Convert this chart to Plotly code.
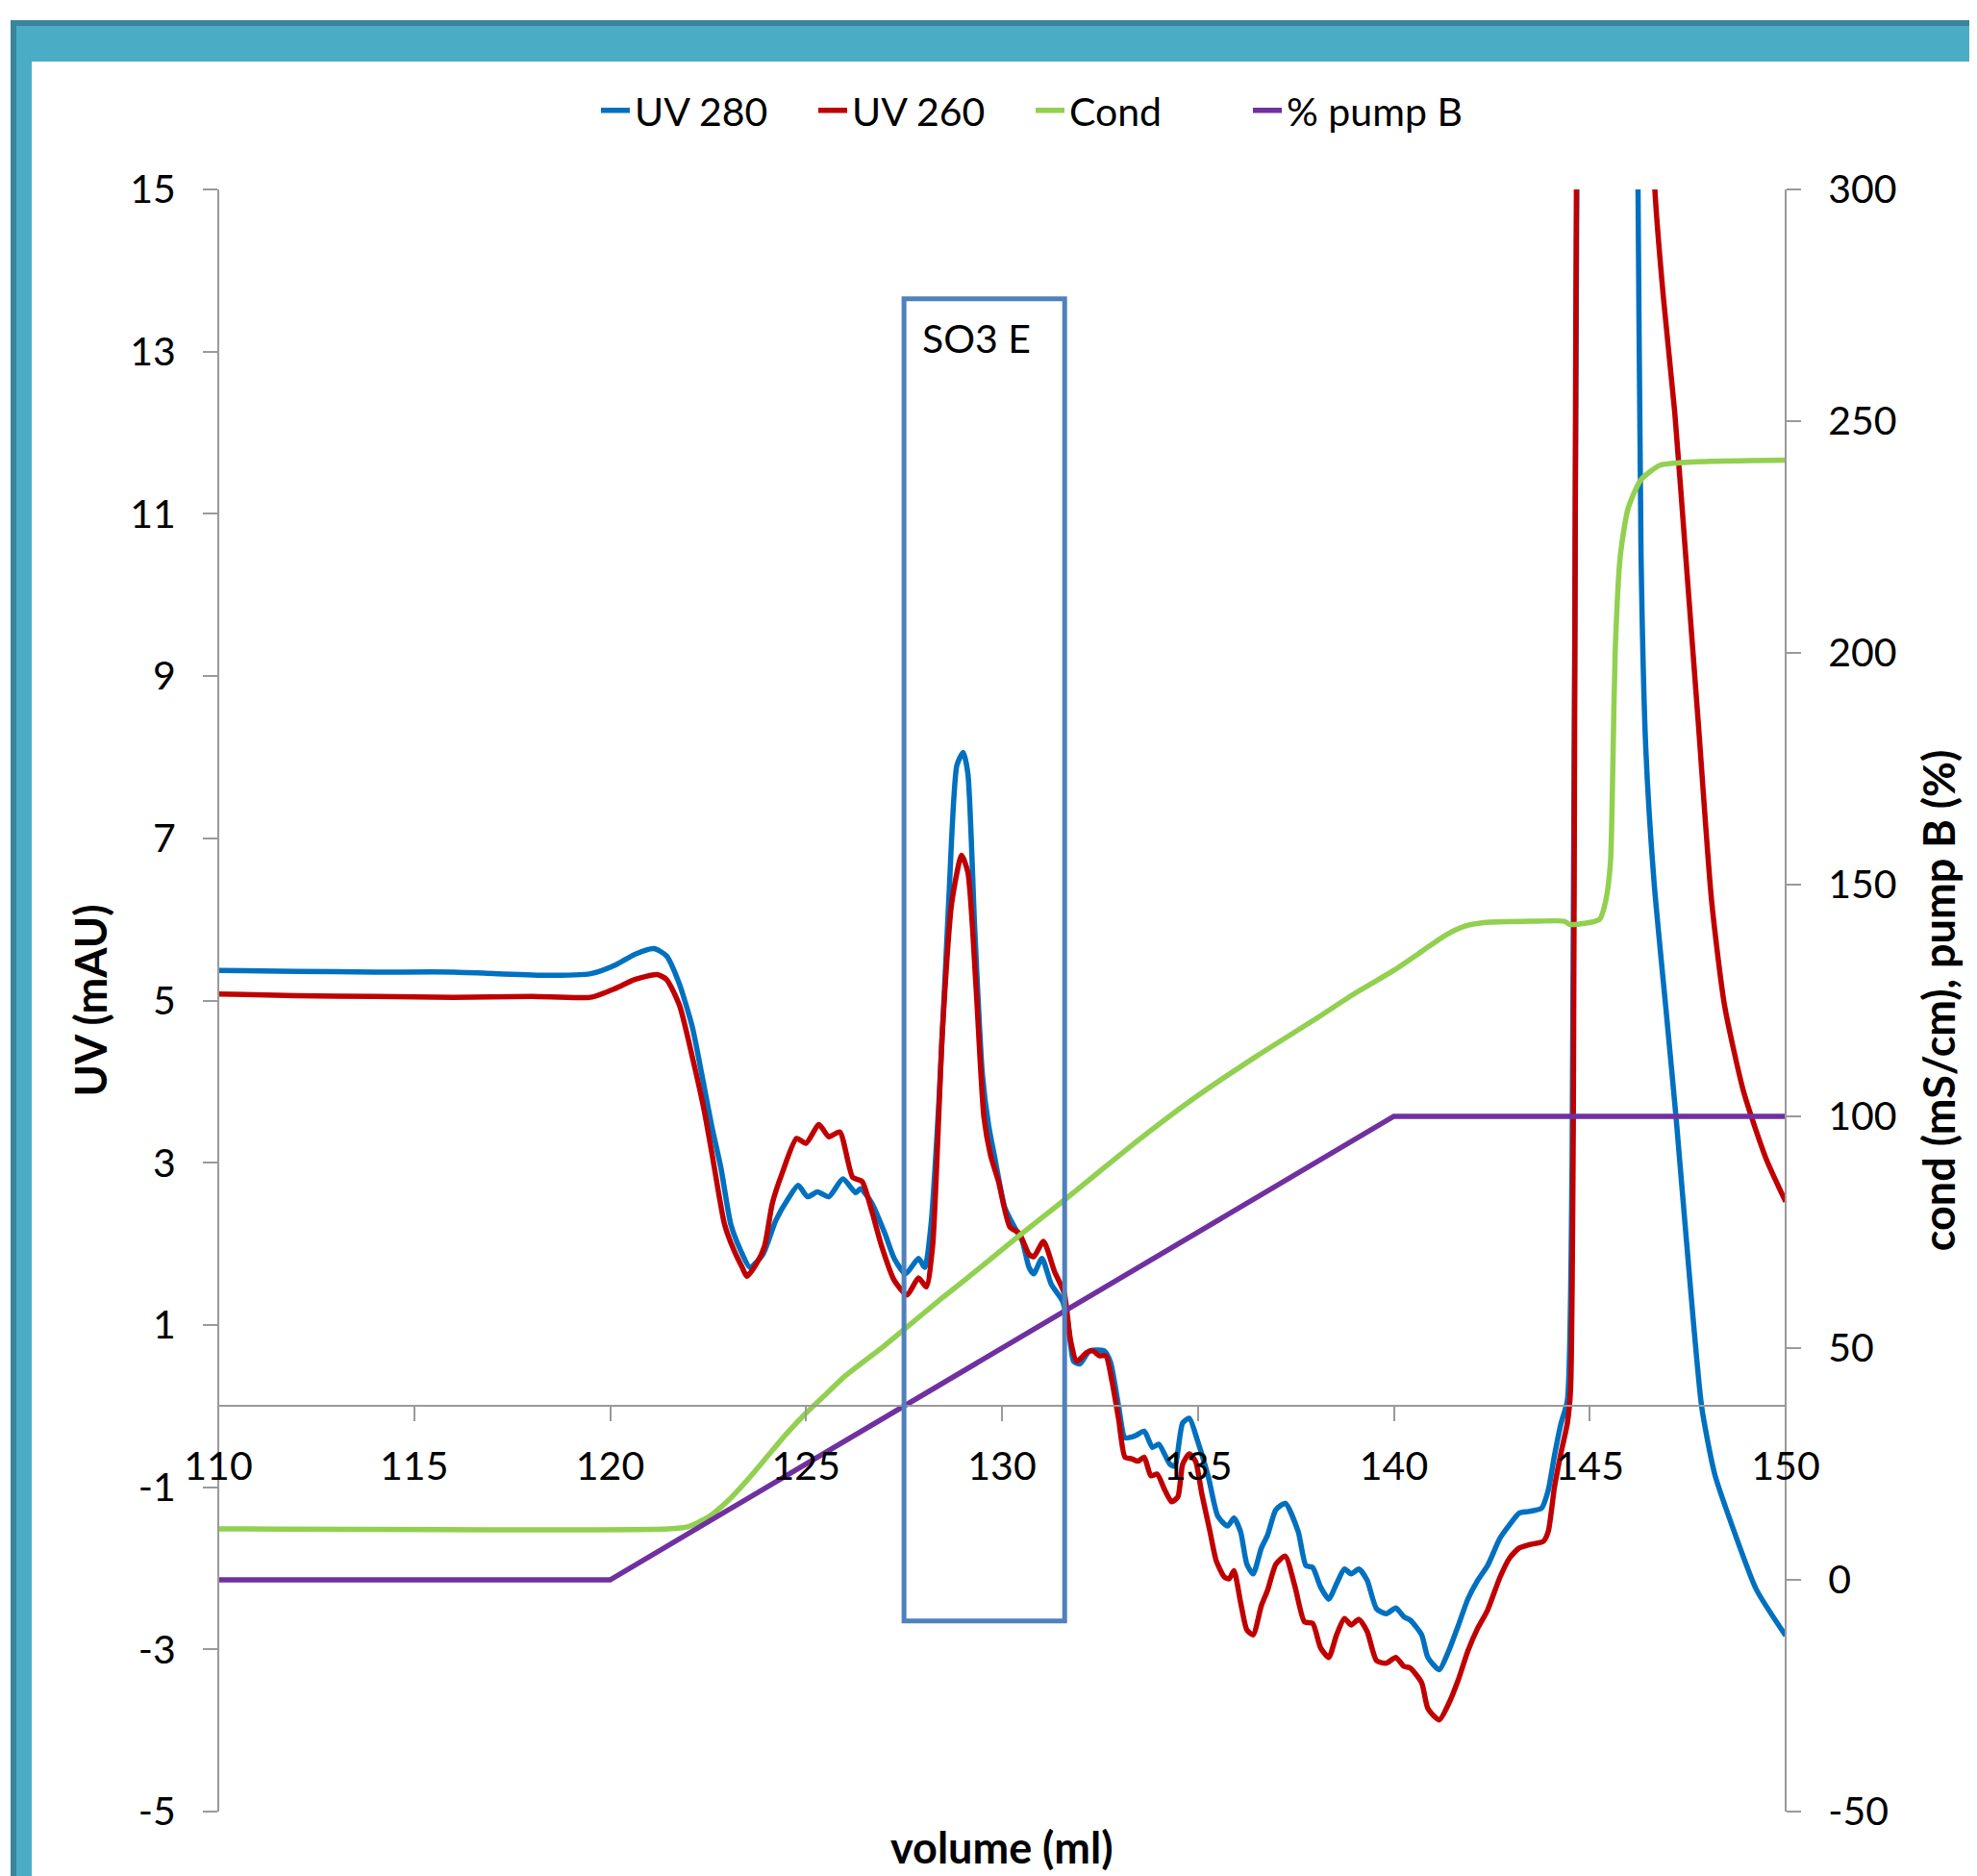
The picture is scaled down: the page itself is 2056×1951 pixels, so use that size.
import plotly.graph_objects as go

# ---------------- data ----------------
vol_uv280 = [110, 112, 114, 116, 118.3, 119.5, 120.14, 120.63, 121.12, 121.44, 121.77, 122.10,
             122.34, 122.59, 122.83, 123.08, 123.33, 123.57, 123.90, 124.23, 124.55, 124.80,
             125.04, 125.29, 125.58, 125.94, 126.27, 126.39, 126.68, 127.01, 127.25, 127.54,
             127.87, 128.03, 128.19, 128.40, 128.64, 128.85, 129.01, 129.13, 129.30, 129.50,
             129.66, 129.83, 130.07, 130.28, 130.52, 130.69, 130.81, 131.02, 131.26, 131.55,
             131.71, 131.83, 131.99, 132.24, 132.61, 132.77, 132.98, 133.14, 133.39, 133.63,
             133.84, 134.00, 134.29, 134.41, 134.61, 134.78, 134.98, 135.27, 135.51, 135.76,
             135.92, 136.09, 136.25, 136.41, 136.62, 136.78, 136.99, 137.23, 137.56, 137.76,
             137.93, 138.13, 138.34, 138.54, 138.74, 138.91, 139.11, 139.32, 139.56, 139.81,
             140.05, 140.26, 140.42, 140.71, 140.87, 141.16, 141.40, 141.65, 141.89, 142.14,
             142.39, 142.71, 142.96, 143.20, 143.45, 143.77, 143.94, 144.10, 144.27, 144.43,
             144.55, 144.68, 145.40, 146.23, 146.31, 146.43, 146.64, 146.96, 147.21, 147.54,
             147.86, 148.19, 148.60, 149.25, 150.0]
uv280 = [5.37, 5.36, 5.35, 5.35, 5.31, 5.33, 5.44, 5.57, 5.64, 5.55, 5.20, 4.67,
         4.09, 3.46, 2.93, 2.24, 1.92, 1.71, 1.87, 2.29, 2.56, 2.72,
         2.58, 2.64, 2.58, 2.80, 2.63, 2.68, 2.50, 2.13, 1.82, 1.63,
         1.82, 1.71, 2.24, 3.83, 6.21, 7.90, 8.06, 7.80, 5.94, 4.09,
         3.46, 3.03, 2.45, 2.24, 2.03, 1.71, 1.63, 1.82, 1.50, 1.29,
         0.92, 0.55, 0.52, 0.68, 0.68, 0.54, -0.01, -0.39, -0.37, -0.31,
         -0.51, -0.47, -0.72, -0.74, -0.21, -0.15, -0.41, -0.88, -1.36, -1.48,
         -1.38, -1.55, -1.95, -2.07, -1.75, -1.59, -1.28, -1.20, -1.55, -1.97,
         -1.99, -2.23, -2.38, -2.19, -2.01, -2.07, -2.01, -2.15, -2.50, -2.56,
         -2.49, -2.60, -2.64, -2.82, -3.10, -3.25, -3.02, -2.70, -2.38, -2.15,
         -1.97, -1.63, -1.46, -1.32, -1.30, -1.26, -1.04, -0.61, -0.21, 0.07,
         3.0, 16.0, 60.0, 15.2, 10.48, 8.12, 6.47, 4.82, 3.52, 1.63,
         -0.02, -0.84, -1.43, -2.26, -2.83]

vol_uv260 = [110, 112, 114, 116, 118, 119.5, 120.14, 120.63, 121.20, 121.44, 121.77, 122.10,
             122.39, 122.59, 122.92, 123.16, 123.37, 123.49, 123.74, 123.94, 124.14, 124.39,
             124.76, 125.00, 125.33, 125.58, 125.86, 126.19, 126.43, 126.68, 126.93, 127.25,
             127.58, 127.87, 128.07, 128.23, 128.48, 128.72, 128.97, 129.13, 129.34, 129.54,
             129.71, 129.91, 130.20, 130.44, 130.69, 130.81, 131.06, 131.34, 131.59, 131.75,
             131.91, 132.16, 132.32, 132.49, 132.65, 132.81, 132.98, 133.14, 133.31, 133.47,
             133.63, 133.80, 133.96, 134.16, 134.33, 134.49, 134.61, 134.78, 134.94, 135.10,
             135.31, 135.47, 135.68, 135.80, 135.92, 136.09, 136.25, 136.41, 136.62, 136.78,
             136.99, 137.23, 137.48, 137.72, 137.93, 138.13, 138.34, 138.54, 138.74, 138.91,
             139.11, 139.32, 139.56, 139.81, 140.05, 140.26, 140.42, 140.71, 140.87, 141.16,
             141.40, 141.65, 141.89, 142.14, 142.39, 142.71, 142.96, 143.20, 143.45, 143.81,
             143.94, 144.10, 144.27, 144.43, 144.51, 144.58, 144.62, 144.67, 145.60, 146.64,
             146.88, 147.17, 147.45, 147.78, 148.11, 148.44, 148.93, 149.50, 150.0]
uv260 = [5.08, 5.06, 5.05, 5.04, 5.05, 5.04, 5.15, 5.26, 5.32, 5.26, 4.94, 4.30,
         3.67, 3.14, 2.24, 1.92, 1.71, 1.60, 1.76, 1.97, 2.50, 2.87,
         3.30, 3.24, 3.47, 3.32, 3.38, 2.82, 2.77, 2.40, 1.97, 1.55,
         1.37, 1.58, 1.47, 1.97, 4.62, 6.21, 6.79, 6.58, 5.15, 3.56,
         3.09, 2.77, 2.21, 2.13, 1.87, 1.84, 2.03, 1.66, 1.39, 0.81,
         0.55, 0.66, 0.68, 0.62, 0.62, 0.30, -0.17, -0.63, -0.65, -0.68,
         -0.63, -0.86, -0.84, -1.04, -1.18, -1.12, -0.72, -0.59, -0.68, -1.08,
         -1.55, -1.91, -2.11, -2.13, -2.03, -2.42, -2.76, -2.82, -2.46, -2.27,
         -1.95, -1.85, -2.23, -2.66, -2.68, -2.98, -3.10, -2.82, -2.62, -2.70,
         -2.63, -2.78, -3.14, -3.17, -3.10, -3.21, -3.23, -3.41, -3.73, -3.87,
         -3.67, -3.37, -3.02, -2.74, -2.52, -2.11, -1.87, -1.75, -1.71, -1.67,
         -1.55, -1.00, -0.57, -0.21, 0.19, 3.4, 9.3, 16.0, 60.0, 15.2,
         13.67, 12.25, 10.48, 8.36, 6.23, 4.94, 3.87, 3.05, 2.52]

vol_cond = [110, 121.5, 122.0, 122.5, 123.0, 123.5, 124.0, 124.5, 125.0, 125.5, 126.0, 127.0,
            127.5, 128.5, 129.1, 130.4, 131.6, 132.4, 133.5, 135.0, 136.5, 138.0, 139.0, 140.0,
            140.7, 141.3, 141.8, 142.3, 143.5, 144.35, 144.5, 145.25, 145.41, 145.53, 145.59,
            145.65, 145.78, 145.98, 146.31, 146.8, 147.62, 150.0]
cond = [11, 11, 11.5, 13.5, 17, 21.5, 26.5, 31.5, 36, 40, 44, 50.5,
        54, 61, 65, 74, 82, 87.5, 95, 104.5, 113, 121, 126.5, 131.5,
        135.5, 139.0, 141.0, 141.8, 142.1, 142.1, 141.4, 142.5, 146.6, 154.9, 175.5,
        200.3, 220.9, 231.2, 237.4, 240.5, 241.2, 241.6]

vol_pump = [110, 120, 140, 150]
pump_b = [0, 0, 100, 100]

x_ticks = [110, 115, 120, 125, 130, 135, 140, 145, 150]
x_ticktext = ["110", "115", "120", "125", "130", "135", "140", "145", "150"]
left_ticks = [-5, -3, -1, 1, 3, 5, 7, 9, 11, 13, 15]
left_ticktext = ["-5", "-3", "-1", "1", "3", "5", "7", "9", "11", "13", "15"]
right_ticks = [-50, 0, 50, 100, 150, 200, 250, 300]
right_ticktext = ["-50", "0", "50", "100", "150", "200", "250", "300"]

# ---------------- figure ----------------
OFF = 8                       # default page margin of the html body
W, H = 2056 - OFF, 1951 - OFF
L, R, T, B = 227, 1857, 197, 1884  # plot-area box in screenshot pixels
FONT = "Lato"
AXC = "#9A9A9A"
TITLE_SIZE = 45


def px(xp):
    return (xp - L) / (R - L)


def py(yp):
    return (B - yp) / (B - T)


LW = 5.5
fig = go.Figure()
fig.add_trace(go.Scatter(x=vol_uv280, y=uv280, name="UV 280", mode="lines",
                         line=dict(color="#0070C0", width=LW, shape="spline", smoothing=0.6)))
fig.add_trace(go.Scatter(x=vol_uv260, y=uv260, name="UV 260", mode="lines",
                         line=dict(color="#C00000", width=LW, shape="spline", smoothing=0.6)))
fig.add_trace(go.Scatter(x=vol_cond, y=cond, name="Cond", mode="lines", yaxis="y2",
                         line=dict(color="#92D050", width=LW, shape="spline", smoothing=0.6)))
fig.add_trace(go.Scatter(x=vol_pump, y=pump_b, name="% pump B", mode="lines", yaxis="y2",
                         line=dict(color="#7030A0", width=LW)))

tickfont = dict(family=FONT, size=41, color="#000000")
axis_common = dict(showline=True, linecolor=AXC, linewidth=2, ticks="outside", ticklen=15,
                   tickwidth=2, tickcolor=AXC, showgrid=False, zeroline=False, tickfont=tickfont)
fig.update_layout(
    width=W, height=H,
    margin=dict(l=L - OFF, r=W - (R - OFF), t=T - OFF, b=H - (B - OFF), pad=0),
    paper_bgcolor="white", plot_bgcolor="white",
    font=dict(family=FONT, size=41, color="#000000"),
    showlegend=True,
    legend=dict(orientation="h", x=px(620), y=py(115), xanchor="left", yanchor="middle",
                font=dict(family=FONT, size=41, color="#000000"),
                bgcolor="rgba(0,0,0,0)", entrywidth=181, entrywidthmode="pixels"),
    xaxis=dict(range=[110, 150], tickvals=x_ticks, ticktext=x_ticktext, anchor="free",
               position=0.25, ticklabelstandoff=12, **axis_common),
    yaxis=dict(range=[-5, 15], tickvals=left_ticks, ticktext=left_ticktext, anchor="free",
               position=0, ticklabelstandoff=20,
               title=dict(text="<b>UV (mAU)</b>", font=dict(family=FONT, size=TITLE_SIZE),
                          standoff=8),
               **axis_common),
    yaxis2=dict(range=[-50, 300], tickvals=right_ticks, ticktext=right_ticktext,
                overlaying="y", side="right", anchor="free", position=1, ticklabelstandoff=20,
                title=dict(text="<b>cond (mS/cm), pump B (%)</b>",
                           font=dict(family=FONT, size=TITLE_SIZE), standoff=29),
                **axis_common),
)

# x-axis title sits at the bottom of the chart
fig.add_annotation(text="<b>volume (ml)</b>", xref="paper", yref="paper", x=0.5, y=py(1921),
                   xanchor="center", yanchor="middle", showarrow=False,
                   font=dict(family=FONT, size=TITLE_SIZE, color="#000000"))

# SO3 E highlight box and label
fig.add_shape(type="rect", xref="x", yref="y", x0=127.5, x1=131.6, y0=-2.65, y1=13.65,
              line=dict(color="#4F81BD", width=5), fillcolor="rgba(0,0,0,0)", layer="above")
fig.add_annotation(text="SO3 E", xref="x", yref="y", x=129.36, y=13.17, showarrow=False,
                   xanchor="center", yanchor="middle",
                   font=dict(family=FONT, size=41, color="#000000"))

# teal frame around the chart
TEAL, TEAL_D = "#4BACC6", "#3A8599"
fig.add_shape(type="rect", xref="paper", yref="paper", x0=px(11), x1=px(2080), y0=py(64), y1=py(21),
              fillcolor=TEAL, line=dict(width=0), layer="below")
fig.add_shape(type="rect", xref="paper", yref="paper", x0=px(11), x1=px(33), y0=py(1980), y1=py(21),
              fillcolor=TEAL, line=dict(width=0), layer="below")
fig.add_shape(type="rect", xref="paper", yref="paper", x0=px(11), x1=px(2080), y0=py(27), y1=py(21),
              fillcolor=TEAL_D, line=dict(width=0), layer="below")
fig.add_shape(type="rect", xref="paper", yref="paper", x0=px(11), x1=px(17), y0=py(1980), y1=py(21),
              fillcolor=TEAL_D, line=dict(width=0), layer="below")

fig.write_html("out.html")
